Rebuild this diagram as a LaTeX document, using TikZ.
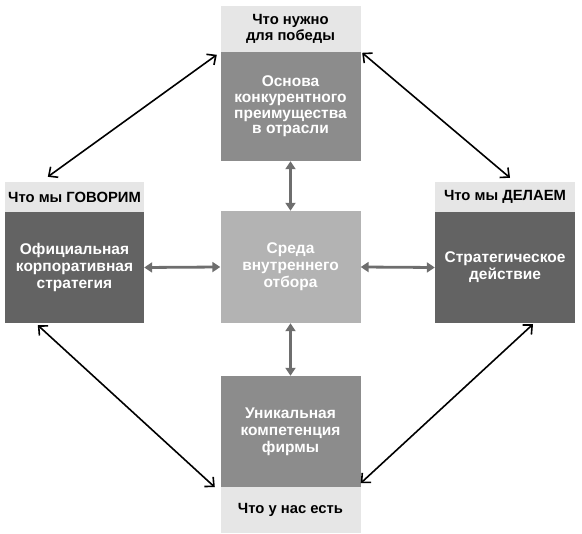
\documentclass[tikz,border=0pt]{standalone}
\usepackage{fontspec}
\setmainfont{Liberation Sans}
\usetikzlibrary{arrows.meta}
\definecolor{lblgray}{HTML}{E6E6E6}
\definecolor{midgray}{HTML}{8C8C8C}
\definecolor{darkgray}{HTML}{636363}
\definecolor{lightgray}{HTML}{B3B3B3}
\definecolor{arrgray}{HTML}{6E6E6E}
\begin{document}
\begin{tikzpicture}[x=1pt,y=-1pt,line join=round,
		font=\bfseries\fontsize{15.5}{17}\selectfont,
		box/.style={minimum width=140pt,inner sep=0pt,align=center,text=white},
		lbl/.style={fill=lblgray,minimum width=140pt,inner sep=0pt,align=center,font=\bfseries\fontsize{14.8}{15.5}\selectfont},
		link/.style={black,line width=1.6pt,{Straight Barb[length=7pt,width=13pt]}-{Straight Barb[length=7pt,width=13pt]}},
		flow/.style={arrgray,line width=2.8pt,{Triangle[length=8pt,width=10pt]}-{Triangle[length=8pt,width=10pt]}}]
		\useasboundingbox (0,0) rectangle (582,534);
		% boxes
		\node[box,fill=midgray,minimum height=109pt,font=\bfseries\fontsize{15.5}{15.7}\selectfont] (win) at (290.5,106.5) {Основа\\конкурентного\\преимущества\\в отрасли};
		\node[lbl,minimum height=46pt] (winlbl) at (290.5,29) {Что нужно\\для победы};
		\node[box,fill=darkgray,minimum width=139pt,minimum height=111pt] (say) at (74.5,267.5) {Официальная\\корпоративная\\стратегия};
		\node[lbl,minimum width=139pt,minimum height=30pt] (saylbl) at (74.5,197) {Что мы ГОВОРИМ};
		\node[box,fill=darkgray,minimum height=111pt] (do) at (505,267.5) {Стратегическое\\действие};
		\node[lbl,minimum height=30pt] (dolbl) at (505,197) {Что мы ДЕЛАЕМ};
		\node[box,fill=lightgray,minimum height=112pt] (env) at (290.5,267) {Среда\\внутреннего\\отбора};
		\node[box,fill=midgray,minimum height=111pt] (have) at (290.5,431.5) {Уникальная\\компетенция\\фирмы};
		\node[lbl,minimum height=46pt] (havelbl) at (290.5,510) {Что у нас есть};
		% gray arrows
		\draw[flow] (say.east)--(env.west);
		\draw[flow] (env.east)--(do.west);
		\draw[flow] (win.south)--(env.north);
		\draw[flow] (env.south)--(have.north);
		% black arrows
		\draw[link] ([xshift=-3.5pt,yshift=-3pt]win.north west)--([xshift=43pt,yshift=5pt]saylbl.north west);
		\draw[link] ([xshift=1.5pt,yshift=-1pt]win.north east)--([xshift=5pt,yshift=4pt]dolbl.north);
		\draw[link] ([xshift=33pt,yshift=-2pt]say.south west)--([xshift=-5.5pt]have.south west);
		\draw[link] ([xshift=28pt,yshift=-1pt]do.south)--([yshift=4pt]have.south east);
		\end{tikzpicture}
\end{document}
